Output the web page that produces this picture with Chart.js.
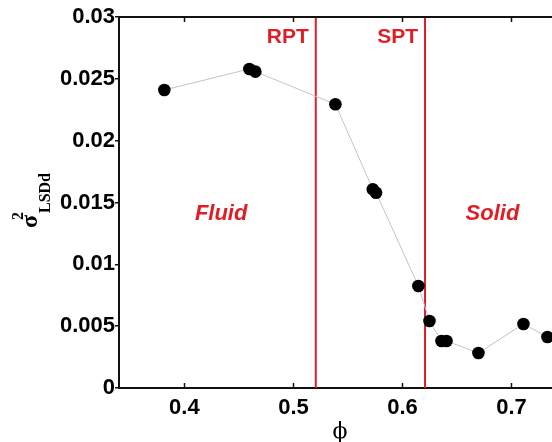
<!DOCTYPE html>
<html lang="en">
<head>
    <meta charset="UTF-8">
    <title>LSDd variance vs phi</title>
    <script src="https://cdn.jsdelivr.net/npm/chart.js"></script>
    <style>
        body { margin: 0; overflow: hidden; background: #fff; }
    </style>
</head>
<body>
    <canvas id="chart" width="700" height="442"></canvas>

    <script>
        // packing fraction and variance
        const phi = [0.3816, 0.4596, 0.4651, 0.5385, 0.5728, 0.5758, 0.6146, 0.6248, 0.6358, 0.6404, 0.6697, 0.7110, 0.7330];
        const sigma2 = [0.0241, 0.0258, 0.02558, 0.02294, 0.01607, 0.01579, 0.00825, 0.00542, 0.0038, 0.0038, 0.00283, 0.00518, 0.00412];

        // transition lines
        const transitions = ['RPT', 'SPT'];
        const transitionPhi = [0.5205, 0.6207];

        const xTicks = [0.4, 0.5, 0.6, 0.7, 0.8];
        const yTicks = [0, 0.005, 0.01, 0.015, 0.02, 0.025, 0.03];

        const red = '#de1f26';

        // frame top, inward x ticks, labels and axis titles
        const decorations = {
            id: 'decorations',
            afterDraw(chart) {
                const ctx = chart.ctx;
                const a = chart.chartArea;
                const xs = chart.scales.x;
                const ys = chart.scales.y;
                ctx.save();
                ctx.strokeStyle = '#111';
                ctx.lineWidth = 2;
                ctx.beginPath();
                ctx.moveTo(a.left - 1, a.top);
                ctx.lineTo(a.right, a.top);
                ctx.stroke();
                ctx.lineWidth = 1.5;
                xTicks.forEach(v => {
                    const px = Math.round(xs.getPixelForValue(v)) + 0.5;
                    ctx.beginPath();
                    ctx.moveTo(px, a.bottom);
                    ctx.lineTo(px, a.bottom - 5);
                    ctx.moveTo(px, a.top);
                    ctx.lineTo(px, a.top + 5);
                    ctx.stroke();
                });

                // RPT / SPT labels
                ctx.fillStyle = red;
                ctx.font = 'bold 21px "Liberation Sans", Arial, sans-serif';
                ctx.textAlign = 'right';
                ctx.textBaseline = 'middle';
                transitions.forEach((t, i) => {
                    ctx.fillText(t, xs.getPixelForValue(transitionPhi[i]) - 7, 37);
                });

                // phase labels
                ctx.font = 'italic bold 22px "Liberation Sans", Arial, sans-serif';
                ctx.textAlign = 'center';
                ctx.fillText('Fluid', xs.getPixelForValue(0.4337), ys.getPixelForValue(0.01407));
                ctx.fillText('Solid', xs.getPixelForValue(0.6826), ys.getPixelForValue(0.01407));

                // x title
                ctx.fillStyle = '#000';
                ctx.font = '22px "DejaVu Serif", "Liberation Serif", serif';
                ctx.fillText('ϕ', 340, 432);

                // y title, rotated: sigma^2_LSDd
                ctx.translate(37, 228);
                ctx.rotate(-Math.PI / 2);
                ctx.textAlign = 'left';
                ctx.textBaseline = 'alphabetic';
                ctx.font = 'bold 24px "Liberation Serif", serif';
                ctx.fillText('σ', 0, 0);
                ctx.font = 'bold 16px "Liberation Serif", serif';
                ctx.fillText('2', 8, -14);
                ctx.fillText('LSDd', 15, 13);
                ctx.restore();
            }
        };

        const tickFont = { family: '"Liberation Sans", Arial, sans-serif', size: 22, weight: 'bold' };

        const datasets = [{
            data: phi.map((x, i) => ({ x: x, y: sigma2[i] })),
            borderColor: '#c4c4c4',
            borderWidth: 1,
            pointRadius: 6.3,
            pointBackgroundColor: '#000',
            pointBorderColor: '#000',
            pointBorderWidth: 0,
            order: 0
        }];
        transitionPhi.forEach(p => {
            datasets.push({
                data: [{ x: p, y: 0 }, { x: p, y: 0.03 }],
                borderColor: red,
                borderWidth: 2,
                pointRadius: 0,
                order: 1
            });
        });

        new Chart(document.getElementById('chart'), {
            type: 'scatter',
            data: { datasets: datasets },
            options: {
                responsive: false,
                animation: false,
                showLine: true,
                layout: { padding: { left: 0, right: 25, top: 17, bottom: 0 } },
                plugins: { legend: { display: false }, tooltip: { enabled: false } },
                scales: {
                    x: {
                        type: 'linear',
                        min: 0.34,
                        max: 0.85,
                        afterFit: s => { s.height = 54; },
                        afterBuildTicks: s => { s.ticks = xTicks.map(v => ({ value: v })); },
                        grid: { drawOnChartArea: false, drawTicks: false },
                        border: { color: '#111', width: 2 },
                        ticks: {
                            color: '#000',
                            font: tickFont,
                            padding: 7,
                            maxRotation: 0,
                            autoSkip: false,
                            callback: v => String(v)
                        }
                    },
                    y: {
                        min: 0,
                        max: 0.03,
                        afterFit: s => { s.width = 119; },
                        afterBuildTicks: s => { s.ticks = yTicks.map(v => ({ value: v })); },
                        grid: { drawOnChartArea: false, drawTicks: true, tickLength: 4, color: '#111', lineWidth: 1.5 },
                        border: { color: '#111', width: 2 },
                        ticks: {
                            color: '#000',
                            font: tickFont,
                            padding: 0,
                            callback: v => String(v)
                        }
                    }
                }
            },
            plugins: [decorations]
        });
    </script>
</body>
</html>
